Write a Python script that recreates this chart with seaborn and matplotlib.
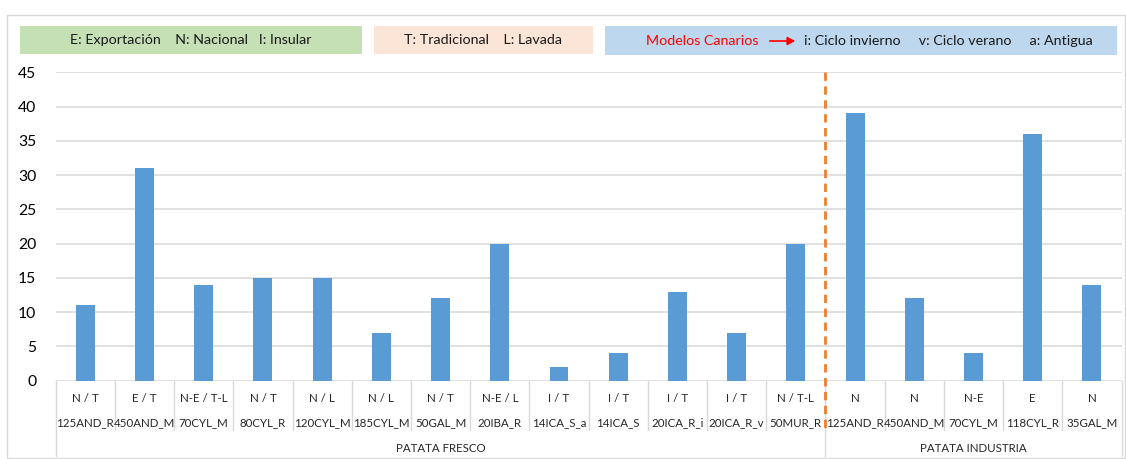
import matplotlib
matplotlib.use("Agg")
import matplotlib.pyplot as plt
from matplotlib.patches import Rectangle, FancyArrowPatch
import seaborn as sns
import pandas as pd

# ---- data ----
groups = ["PATATA FRESCO"] * 13 + ["PATATA INDUSTRIA"] * 5
codes = ["N / T", "E / T", "N-E / T-L", "N / T", "N / L", "N / L", "N / T", "N-E / L",
         "I / T", "I / T", "I / T", "I / T", "N / T-L",
         "N", "N", "N-E", "E", "N"]
names = ["125AND_R", "450AND_M", "70CYL_M", "80CYL_R", "120CYL_M", "185CYL_M", "50GAL_M",
         "20IBA_R", "14ICA_S_a", "14ICA_S", "20ICA_R_i", "20ICA_R_v", "50MUR_R",
         "125AND_R", "450AND_M", "70CYL_M", "118CYL_R", "35GAL_M"]
values = [11, 31, 14, 15, 15, 7, 12, 20, 2, 4, 13, 7, 20,
          39, 12, 4, 36, 14]
yticks = [0, 5, 10, 15, 20, 25, 30, 35, 40, 45]
legend_green = "E: Exportación    N: Nacional   I: Insular"
legend_peach = "T: Tradicional    L: Lavada"
legend_blue_red = "Modelos Canarios"
legend_blue_black = "i: Ciclo invierno     v: Ciclo verano     a: Antigua"

sns.set_theme(style="white")
plt.rcParams["font.family"] = ["Lato", "DejaVu Sans"]

W, H = 1126, 459
fig = plt.figure(figsize=(W / 100, H / 100), dpi=100)

def fx(px):
    return px / W

def fy(py):
    return 1 - py / H

ax_l, ax_r, ax_t, ax_b = 55.7, 1121.5, 72.3, 380.7
ax = fig.add_axes([fx(ax_l), fy(ax_b), fx(ax_r - ax_l), (ax_b - ax_t) / H])

keys = [f"{g}|{c}|{n}|{i}" for i, (g, c, n) in enumerate(zip(groups, codes, names))]
df = pd.DataFrame({"key": keys, "value": values})
sns.barplot(data=df, x="key", y="value", color="#5B9BD5", saturation=1,
            width=0.32, ax=ax, edgecolor="none", zorder=3)

ax.set_xlim(-0.5, len(values) - 0.5)
ax.set_ylim(0, 45)
ax.set_yticks(yticks)
ax.set_yticklabels([str(t) for t in yticks], fontsize=11.3, color="#000000")
ax.tick_params(axis="y", length=0, pad=14)
ax.set_xticks([])
ax.set_xlabel("")
ax.set_ylabel("")
for s in ax.spines.values():
    s.set_visible(False)
for t in yticks:
    ax.axhline(t, color="#D9D9D9", lw=1.1, zorder=1)

tr = ax.get_xaxis_transform()
hpx = ax_b - ax_t

def afy(py):
    return (ax_b - py) / hpx

# category labels (two rows) and group row
for i, (c, n) in enumerate(zip(codes, names)):
    ax.text(i, afy(398), c, transform=tr, ha="center", va="center", fontsize=8.3,
            color="#262626", clip_on=False)
    ax.text(i, afy(423), n, transform=tr, ha="center", va="center", fontsize=8.3,
            color="#262626", clip_on=False)

# separators
n = len(values)
group_bounds = [-0.5] + [i - 0.5 for i in range(1, n) if groups[i] != groups[i - 1]] + [n - 0.5]
for i in range(1, n):
    xb = i - 0.5
    if xb in group_bounds:
        continue
    ax.plot([xb, xb], [0, afy(430)], transform=tr, color="#D9D9D9", lw=1, clip_on=False)
for xb in group_bounds:
    ax.plot([xb, xb], [0, afy(456)], transform=tr, color="#D9D9D9", lw=1, clip_on=False)

# group labels
for a, b in zip(group_bounds[:-1], group_bounds[1:]):
    gname = groups[int(a + 0.5)]
    ax.text((a + b) / 2, afy(448), gname, transform=tr, ha="center", va="center",
            fontsize=8.3, color="#262626", clip_on=False)

# dashed separator line between groups
xd = group_bounds[1]
ax.plot([xd, xd], [1.0, afy(428)], transform=tr, color="#ED7D31", lw=2,
        linestyle=(0, (3, 2)), clip_on=False, zorder=5)

# outer chart border
fig.add_artist(Rectangle((fx(7), fy(458)), fx(1126 - 7 - 1), (458 - 15) / H,
                         transform=fig.transFigure, fill=False, edgecolor="#D9D9D9", lw=1))

# legend boxes
def box(x0, x1, y0, y1, color):
    fig.add_artist(Rectangle((fx(x0), fy(y1)), fx(x1 - x0), (y1 - y0) / H,
                             transform=fig.transFigure, facecolor=color, edgecolor="none"))

box(20, 362, 26, 54, "#C5E0B4")
box(374, 593, 26, 54, "#FBE5D6")
box(605, 1117, 26, 55, "#BDD7EE")

fig.text(fx(191), fy(40), legend_green, ha="center", va="center", fontsize=10.3, color="#1a1a1a")
fig.text(fx(483), fy(40), legend_peach, ha="center", va="center", fontsize=10.3, color="#1a1a1a")
fig.text(fx(758), fy(41), legend_blue_red, ha="right", va="center", fontsize=10.3, color="#FF0000")
fig.add_artist(FancyArrowPatch((fx(767), fy(41)), (fx(798), fy(41)), transform=fig.transFigure,
                               arrowstyle="-|>,head_length=3,head_width=1.6", color="#FF0000",
                               lw=1.2, mutation_scale=1.5))
fig.text(fx(804), fy(41), legend_blue_black, ha="left", va="center", fontsize=10.3, color="#1a1a1a")

fig.savefig("out.png", dpi=100)
